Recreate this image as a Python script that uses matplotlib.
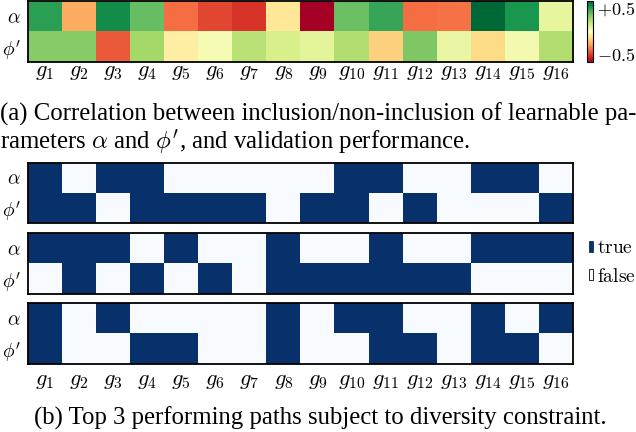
import matplotlib.pyplot as plt
import numpy as np
from matplotlib.colors import ListedColormap
from matplotlib.patches import Patch

plt.rcParams['mathtext.fontset'] = 'cm'
plt.rcParams['font.family'] = 'Liberation Serif'

groups = ['$g_{%d}$' % i for i in range(1, 17)]
params = [r'$\alpha$', r"$\phi'$"]

# correlation with validation performance
corr_alpha = [0.49, -0.26, 0.55, 0.39, -0.39, -0.47, -0.51, -0.10,
              -0.65, 0.38, 0.47, -0.39, -0.38, 0.65, 0.52, 0.08]
corr_phi = [0.32, 0.32, -0.43, 0.26, -0.07, 0.03, 0.21, 0.13,
            0.09, 0.23, -0.17, 0.34, 0.07, -0.14, 0.04, 0.23]

# top 3 paths (1 = included)
path1_alpha = [1, 0, 1, 1, 0, 0, 0, 0, 0, 1, 1, 0, 0, 1, 1, 0]
path1_phi = [1, 1, 0, 1, 1, 1, 1, 0, 1, 1, 0, 1, 0, 0, 0, 1]
path2_alpha = [1, 1, 1, 0, 1, 0, 0, 1, 0, 0, 1, 0, 0, 1, 1, 1]
path2_phi = [0, 1, 0, 1, 0, 1, 0, 1, 1, 1, 1, 1, 1, 0, 0, 0]
path3_alpha = [1, 0, 1, 0, 0, 0, 0, 1, 0, 1, 1, 0, 0, 1, 0, 1]
path3_phi = [1, 0, 0, 1, 1, 0, 0, 1, 0, 0, 1, 1, 0, 1, 1, 0]

W, H = 636, 432
fig = plt.figure(figsize=(W / 100, H / 100), dpi=100)

def box(x0, y0, x1, y1):
    return [x0 / W, 1 - y1 / H, (x1 - x0) / W, (y1 - y0) / H]

def style(ax, xlabels, xpad=2):
    ax.set_yticks([0, 1])
    ax.set_yticklabels(params, fontsize=14)
    ax.set_xticks(range(16))
    if xlabels:
        ax.set_xticklabels(groups, fontsize=16)
    else:
        ax.set_xticklabels([])
    ax.tick_params(axis='y', length=0, pad=5)
    ax.tick_params(axis='x', length=0, pad=xpad)
    for s in ax.spines.values():
        s.set_linewidth(1.3)

ax0 = fig.add_axes(box(28, 1, 573, 62))
im = ax0.imshow(np.array([corr_alpha, corr_phi]), cmap='RdYlGn',
                vmin=-0.65, vmax=0.65, aspect='auto', interpolation='nearest')
style(ax0, True, 1)

cax = fig.add_axes(box(587, 1, 593, 62))
cb = fig.colorbar(im, cax=cax, ticks=[-0.5, 0.5])
cb.ax.set_yticklabels(['$-0.5$', '$+0.5$'], fontsize=13)
cb.ax.tick_params(length=0, pad=3)
cb.outline.set_linewidth(0.8)

fig.text(0.0, 1 - 114 / H,
         '(a) Correlation between inclusion/non-inclusion of learnable pa-',
         fontsize=17.8, va='center', ha='left')
fig.text(0.0, 1 - 142 / H,
         r"rameters $\alpha$ and $\phi'$, and validation performance.",
         fontsize=17.8, va='center', ha='left')

bmap = ListedColormap(['#f7fbff', '#08306b'])
paths = [(path1_alpha, path1_phi, 163, 223),
         (path2_alpha, path2_phi, 233, 294),
         (path3_alpha, path3_phi, 303, 364)]
for i, (a, p, top, bot) in enumerate(paths):
    ax = fig.add_axes(box(28, top, 573, bot))
    ax.imshow(np.array([a, p]), cmap=bmap, vmin=0, vmax=1,
              aspect='auto', interpolation='nearest')
    style(ax, i == 2, 6)

handles = [Patch(facecolor='#08306b', edgecolor='#08306b', lw=0.6,
                 label=r'$\mathrm{true}$'),
           Patch(facecolor='#f7fbff', edgecolor='black', lw=0.6,
                 label=r'$\mathrm{false}$')]
fig.legend(handles=handles, loc='center left',
           bbox_to_anchor=(589 / W, 1 - 263 / H), frameon=False,
           borderpad=0, borderaxespad=0,
           fontsize=14, handlelength=0.2, handleheight=0.5,
           handletextpad=0.2, labelspacing=0.55)

fig.text(0.503, 1 - 418 / H,
         '(b) Top 3 performing paths subject to diversity constraint.',
         fontsize=17.8, va='center', ha='center')

fig.savefig('out.png', dpi=100)
